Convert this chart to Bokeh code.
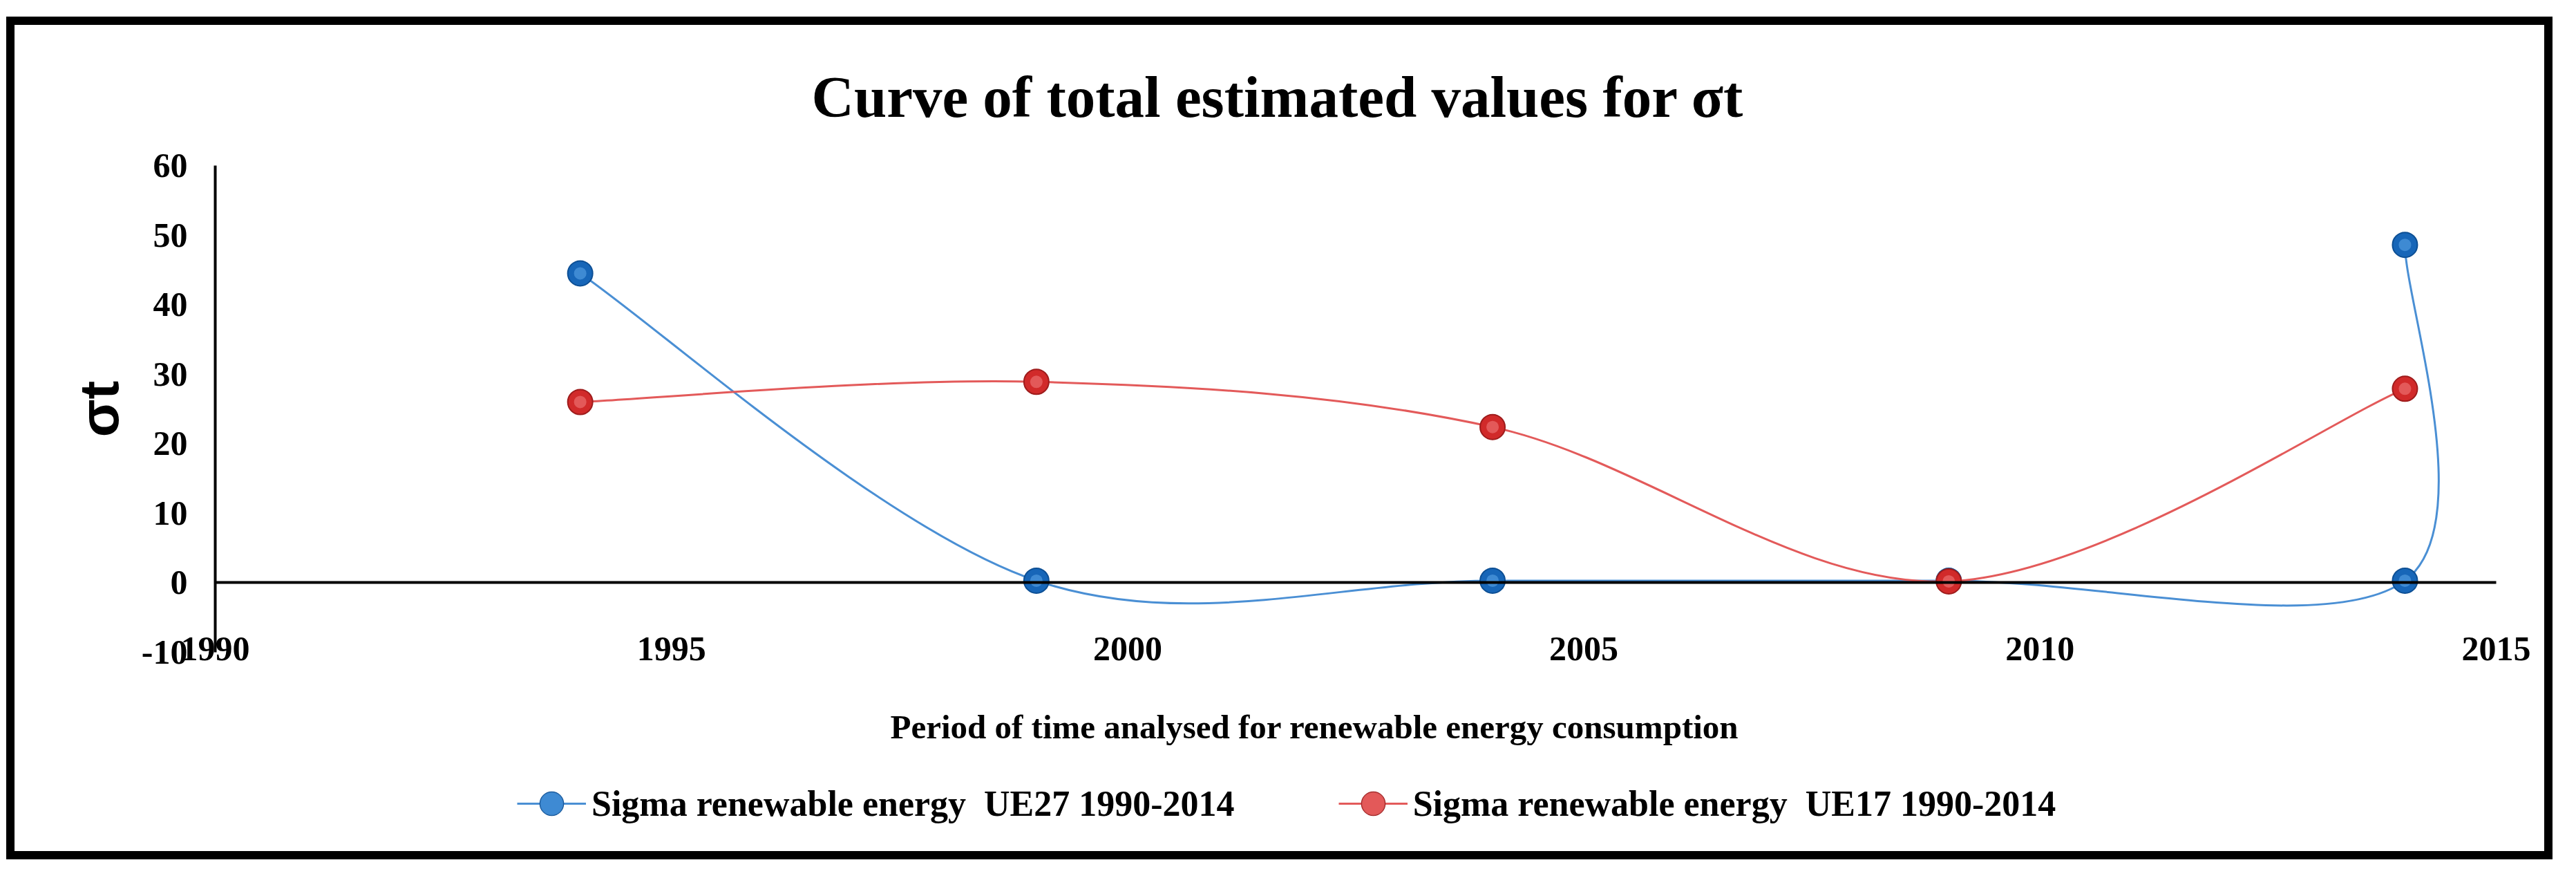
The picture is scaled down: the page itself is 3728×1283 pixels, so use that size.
from bokeh.plotting import figure
from bokeh.models import Legend, LegendItem, FixedTicker, Title, LinearAxis
from bokeh.embed import file_html
from bokeh.resources import INLINE

# ---- data ----
years_ue27 = [1994, 1999, 2004, 2009, 2014, 2014]
sigma_ue27 = [44.5, 0.3, 0.3, 0.3, 0.3, 48.6]
years_ue17 = [1994, 1999, 2004, 2009, 2014]
sigma_ue17 = [26.0, 28.9, 22.4, 0.2, 27.9]
x_ticks = [1990, 1995, 2000, 2005, 2010, 2015]
y_ticks = [-10, 0, 10, 20, 30, 40, 50, 60]
label_ue27 = "Sigma renewable energy  UE27 1990-2014"
label_ue17 = "Sigma renewable energy  UE17 1990-2014"

SERIF = "Liberation Serif"


def smooth_segments(xs, ys):
    """Cubic Bezier segments through the points (Excel-like smoothing)."""
    n = len(xs)
    seg = dict(x0=[], y0=[], x1=[], y1=[], cx0=[], cy0=[], cx1=[], cy1=[])
    for i in range(n - 1):
        a = i - 1 if i > 0 else i
        b = i + 2 if i + 2 < n else i + 1
        tx0 = (xs[i + 1] - xs[a]) / 6.0
        ty0 = (ys[i + 1] - ys[a]) / 6.0
        tx1 = (xs[b] - xs[i]) / 6.0
        ty1 = (ys[b] - ys[i]) / 6.0
        seg["x0"].append(xs[i]); seg["y0"].append(ys[i])
        seg["x1"].append(xs[i + 1]); seg["y1"].append(ys[i + 1])
        seg["cx0"].append(xs[i] + tx0); seg["cy0"].append(ys[i] + ty0)
        seg["cx1"].append(xs[i + 1] - tx1); seg["cy1"].append(ys[i + 1] - ty1)
    return seg


# layout (pixels, figure coordinates)
W, H = 3712, 1267
FRAME_L, FRAME_R, FRAME_T, FRAME_B = 92, 3712, 200, 1222
X0_PX, X1_PX = 311, 3612     # pixel columns of first / last x tick
Y0_PX, Y1_PX = 943, 239      # pixel rows of the lowest / highest y tick
x_lo, x_hi = x_ticks[0], x_ticks[-1]
y_lo, y_hi = y_ticks[0], y_ticks[-1]
ppx = (X1_PX - X0_PX) / (x_hi - x_lo)
ppy = (Y0_PX - Y1_PX) / (y_hi - y_lo)
x_start = x_lo - (X0_PX - FRAME_L) / ppx
x_end = x_hi + (FRAME_R - X1_PX) / ppx
y_start = y_lo - (FRAME_B - Y0_PX) / ppy
y_end = y_hi + (Y1_PX - FRAME_T) / ppy

p = figure(width=W, height=H, output_backend="svg", toolbar_location=None,
           x_range=(x_start, x_end), y_range=(y_start, y_end),
           min_border_left=FRAME_L, min_border_right=W - FRAME_R,
           min_border_top=FRAME_T, min_border_bottom=H - FRAME_B)
p.stylesheets = [
    ":host { position: relative; }",
    ":host::after { content: ''; position: absolute; left: 9px; top: 24px; "
    "right: 18px; bottom: 24px; border: 12px solid black; pointer-events: none; "
    "z-index: 1000; }",
]
p.background_fill_color = "white"
p.border_fill_color = "white"
p.outline_line_color = None
p.xgrid.grid_line_color = None
p.ygrid.grid_line_color = None

t = Title(text="Curve of total estimated values for \u03c3t", align="left",
          text_font=SERIF, text_font_size="85px", text_font_style="bold",
          text_color="black", standoff=27, offset=1082)
p.add_layout(t, "above")

# y axis, drawn at x = 1990
p.yaxis.fixed_location = x_lo
p.yaxis.ticker = FixedTicker(ticks=y_ticks)
p.yaxis.bounds = (y_lo, y_hi)
p.yaxis.major_label_overrides = {-10: "-10"}
p.yaxis.axis_line_color = "black"
p.yaxis.axis_line_width = 4
p.yaxis.major_tick_line_color = None
p.yaxis.minor_tick_line_color = None
p.yaxis.major_tick_out = 0
p.yaxis.major_tick_in = 0
p.yaxis.major_label_standoff = 40
p.yaxis.major_label_text_font = SERIF
p.yaxis.major_label_text_font_size = "50px"
p.yaxis.major_label_text_font_style = "bold"
p.yaxis.major_label_text_color = "black"
p.yaxis.axis_label = "\u03c3t"
p.yaxis.axis_label_text_font = "Liberation Sans"
p.yaxis.axis_label_text_font_size = "80px"
p.yaxis.axis_label_text_font_style = "bold"
p.yaxis.axis_label_text_color = "black"
p.yaxis.axis_label_standoff = 14

# x axis labels, drawn at the bottom of the value range
p.xaxis.fixed_location = y_lo
p.xaxis.ticker = FixedTicker(ticks=x_ticks)
p.xaxis.axis_line_color = None
p.xaxis.major_tick_line_color = None
p.xaxis.minor_tick_line_color = None
p.xaxis.major_tick_out = 0
p.xaxis.major_tick_in = 0
p.xaxis.major_label_standoff = -22
p.xaxis.major_label_text_font = SERIF
p.xaxis.major_label_text_font_size = "50px"
p.xaxis.major_label_text_font_style = "bold"
p.xaxis.major_label_text_color = "black"
p.xaxis.axis_label = "Period of time analysed for renewable energy consumption"
p.xaxis.axis_label_text_font = SERIF
p.xaxis.axis_label_text_font_size = "49px"
p.xaxis.axis_label_text_font_style = "bold"
p.xaxis.axis_label_text_color = "black"
p.xaxis.axis_label_standoff = 66

# horizontal axis line crossing at 0
zero_axis = LinearAxis(fixed_location=0, bounds=(x_lo, x_hi),
                       ticker=FixedTicker(ticks=[]),
                       axis_line_color="black", axis_line_width=4,
                       major_tick_line_color=None, minor_tick_line_color=None,
                       major_label_text_font_size="0px")
p.add_layout(zero_axis, "below")

series = [
    (years_ue27, sigma_ue27, "#4a8fd4", "#1766b8", "#0d4f94", "#5fa8ea", label_ue27),
    (years_ue17, sigma_ue17, "#e35a5a", "#d12a2a", "#9e1c1c", "#f28080", label_ue17),
]
items = []
for xs, ys, lc, fc, ec, hc, lab in series:
    seg = smooth_segments(xs, ys)
    r_line = p.bezier(x0=seg["x0"], y0=seg["y0"], x1=seg["x1"], y1=seg["y1"],
                      cx0=seg["cx0"], cy0=seg["cy0"], cx1=seg["cx1"], cy1=seg["cy1"],
                      line_color=lc, line_width=3)
    r_pt = p.scatter(xs, ys, size=36, marker="circle", fill_color=fc,
                     line_color=ec, line_width=2)
    r_hi = p.scatter(xs, ys, size=18, marker="circle", fill_color=hc,
                     fill_alpha=0.55, line_color=None)
    items.append(LegendItem(label=lab, renderers=[r_line, r_pt, r_hi]))

legend = Legend(items=items, orientation="horizontal", location=(656, 18),
                glyph_width=100, glyph_height=84, label_standoff=8, spacing=150,
                padding=0, margin=0, border_line_color=None,
                background_fill_alpha=0,
                label_text_font=SERIF, label_text_font_size="52px",
                label_text_font_style="bold", label_text_color="black")
p.add_layout(legend, "center")

open("out.html", "w").write(file_html(p, INLINE))
